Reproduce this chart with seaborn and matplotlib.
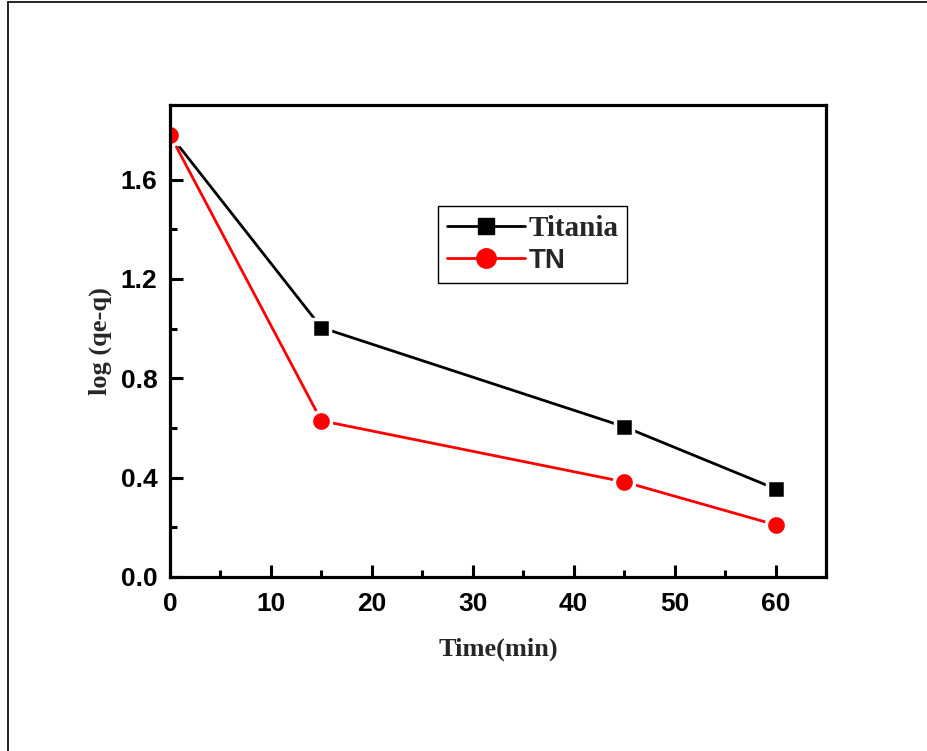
import matplotlib
matplotlib.use("Agg")
import matplotlib.pyplot as plt
from matplotlib.lines import Line2D
from matplotlib.ticker import MultipleLocator
import numpy as np
import pandas as pd
import seaborn as sns

# Adsorption kinetics: log(qe - q) against contact time
time_min = [0, 15, 45, 60]
titania = [1.78, 1.004, 0.605, 0.355]
tn = [1.78, 0.629, 0.383, 0.210]
series_names = ["Titania", "TN"]
x_ticks = [0, 10, 20, 30, 40, 50, 60]
y_ticks = [0.0, 0.4, 0.8, 1.2, 1.6]

df = pd.DataFrame({
    "time": time_min * 2,
    "value": titania + tn,
    "sample": [series_names[0]] * len(time_min) + [series_names[1]] * len(time_min),
})

sns.set_theme(style="white")
plt.rcParams["font.family"] = ["Liberation Sans", "DejaVu Sans"]

fig = plt.figure(figsize=(9.28, 7.51), dpi=100)
ax = fig.add_axes([170 / 928, 1 - 577 / 751, (826 - 170) / 928, (577 - 105) / 751])

palette = {"Titania": "black", "TN": "red"}
markers = {"Titania": "s", "TN": "o"}
sizes = {"Titania": 12.5, "TN": 14.5}

sns.lineplot(data=df, x="time", y="value", hue="sample", style="sample",
             palette=palette, markers=markers, dashes=False, linewidth=2.0,
             markersize=12, markeredgecolor="white", markeredgewidth=2.5,
             legend=False, ax=ax)
# resize markers per series
for line, name in zip(ax.get_lines(), series_names):
    line.set_markersize(sizes[name])

ax.set_xlim(0, 65)
ax.set_ylim(0, 1.9)
ax.set_xticks(x_ticks)
ax.set_yticks(y_ticks)
ax.set_yticklabels([f"{v:.1f}" for v in y_ticks])
ax.xaxis.set_minor_locator(MultipleLocator(5))
ax.yaxis.set_minor_locator(MultipleLocator(0.2))
ax.tick_params(axis="both", which="major", direction="in", length=9, width=2.2,
               labelsize=19, bottom=True, left=True, top=False, right=False,
               colors="black")
ax.tick_params(axis="x", which="major", pad=11)
ax.tick_params(axis="y", which="major", pad=9)
ax.tick_params(axis="both", which="minor", direction="in", length=5, width=2.2,
               bottom=True, left=True, top=False, right=False, colors="black")
for lab in ax.get_xticklabels() + ax.get_yticklabels():
    lab.set_fontweight("bold")
for sp in ax.spines.values():
    sp.set_visible(True)
    sp.set_color("black")
    sp.set_linewidth(2.3)

serif = ["Liberation Serif", "DejaVu Serif"]
ax.set_xlabel("Time(min)", fontsize=19, fontweight="bold", family=serif, labelpad=15)
ax.set_ylabel("log (qe-q)", fontsize=19, fontweight="bold", family=serif, labelpad=6)

handles = [
    Line2D([], [], color="black", lw=2.0, marker="s", markersize=11),
    Line2D([], [], color="red", lw=2.0, marker="o", markersize=14),
]
leg = ax.legend(handles, series_names, loc="upper left",
                bbox_to_anchor=((438 - 170) / 656, (577 - 206) / 472),
                frameon=True, fancybox=False, edgecolor="black", framealpha=1,
                handlelength=2.7, handletextpad=0.1, borderpad=0.3,
                labelspacing=0.2, borderaxespad=0, fontsize=21)
leg.get_frame().set_linewidth(1.0)
texts = leg.get_texts()
texts[0].set_fontproperties({"family": serif, "weight": "bold", "size": 21})
texts[1].set_fontproperties({"family": ["Liberation Sans", "DejaVu Sans"], "weight": "bold", "size": 20})

# page frame lines along the left and top edges
fig.add_artist(Line2D([8 / 928, 8 / 928], [0, 1 - 2 / 751], color="black", lw=1.2,
                      transform=fig.transFigure))
fig.add_artist(Line2D([8 / 928, 1], [1 - 2 / 751, 1 - 2 / 751], color="black", lw=1.2,
                      transform=fig.transFigure))

fig.savefig("out.png", dpi=100, facecolor="white")
